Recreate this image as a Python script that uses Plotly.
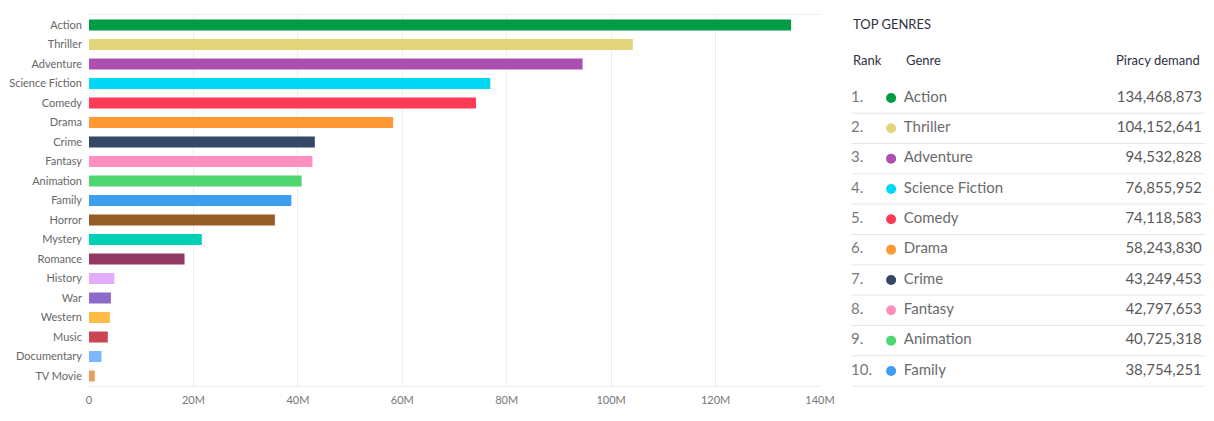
import plotly.graph_objects as go

genres = ["Action", "Thriller", "Adventure", "Science Fiction", "Comedy", "Drama", "Crime",
          "Fantasy", "Animation", "Family", "Horror", "Mystery", "Romance", "History", "War",
          "Western", "Music", "Documentary", "TV Movie"]
demand = [134468873, 104152641, 94532828, 76855952, 74118583, 58243830, 43249453,
          42797653, 40725318, 38754251, 35600000, 21600000, 18300000, 4850000, 4200000,
          4000000, 3600000, 2400000, 1100000]
colors = ["#009c44", "#e2d57c", "#ad4fb1", "#00d8f5", "#ff3a55", "#ff9933", "#354766",
          "#ff8fbf", "#4fd672", "#3d9ef0", "#935d25", "#00d1b4", "#913962", "#e2adfd",
          "#8c6bc8", "#ffbb47", "#cc4452", "#7db7ff", "#eb9c5f"]
x_ticks = [0, 20e6, 40e6, 60e6, 80e6, 100e6, 120e6, 140e6]
x_tick_labels = ["0", "20M", "40M", "60M", "80M", "100M", "120M", "140M"]

top_n = 10
ranks = list(range(1, top_n + 1))
rank_labels = [f"{r}." for r in ranks]
top_genres = genres[:top_n]
top_values = [f"{v:,}" for v in demand[:top_n]]
top_colors = colors[:top_n]

FONT = "Lato, 'Open Sans', sans-serif"
W, H = 1214, 421

fig = go.Figure()

fig.add_trace(go.Bar(
    x=demand, y=genres, orientation="h",
    marker=dict(color=colors, line=dict(width=0)),
    width=0.57, xaxis="x", yaxis="y", showlegend=False,
    hoverinfo="x+y",
))

# Table (on a second pair of axes, rows positioned by rank)
col_rank, col_dot, col_genre, col_value = 0.0165, 0.127, 0.162, 0.983
fig.add_trace(go.Scatter(
    x=[col_rank] * top_n, y=ranks, mode="text", text=rank_labels,
    textposition="middle right", textfont=dict(family=FONT, size=15, color="#7a7a7a"),
    xaxis="x2", yaxis="y2", showlegend=False, hoverinfo="skip",
))
fig.add_trace(go.Scatter(
    x=[col_dot] * top_n, y=ranks, mode="markers",
    marker=dict(color=top_colors, size=10),
    xaxis="x2", yaxis="y2", showlegend=False, hoverinfo="skip",
))
fig.add_trace(go.Scatter(
    x=[col_genre] * top_n, y=ranks, mode="text", text=top_genres,
    textposition="middle right", textfont=dict(family=FONT, size=15, color="#6b6b6b"),
    xaxis="x2", yaxis="y2", showlegend=False, hoverinfo="skip",
))
fig.add_trace(go.Scatter(
    x=[col_value] * top_n, y=ranks, mode="text", text=top_values,
    textposition="middle left", textfont=dict(family=FONT, size=15, color="#5a5a5a"),
    xaxis="x2", yaxis="y2", showlegend=False, hoverinfo="skip",
))

shapes = []
for r in ranks:
    shapes.append(dict(type="line", xref="x2", yref="y2", x0=col_rank, x1=0.992,
                       y0=r + 0.5, y1=r + 0.5, line=dict(color="#e6e6e6", width=1)))

annotations = [
    dict(text="TOP GENRES", xref="x2", yref="y2", x=col_rank, y=-1.44, xanchor="left",
         yanchor="middle", showarrow=False, font=dict(family=FONT, size=13, color="#2d3142")),
    dict(text="Rank", xref="x2", yref="y2", x=col_rank, y=-0.25, xanchor="left",
         yanchor="middle", showarrow=False, font=dict(family=FONT, size=13, color="#2d3142")),
    dict(text="Genre", xref="x2", yref="y2", x=col_genre, y=-0.25, xanchor="left",
         yanchor="middle", showarrow=False, font=dict(family=FONT, size=13, color="#2d3142")),
    dict(text="Piracy demand", xref="x2", yref="y2", x=col_value, y=-0.25, xanchor="right",
         yanchor="middle", showarrow=False, font=dict(family=FONT, size=13, color="#2d3142")),
]

row_px = 30.33
first_row_px = 98
y2_top = 1 - first_row_px / row_px
y2_bottom = 1 + (H - first_row_px) / row_px

fig.update_layout(
    width=W, height=H,
    margin=dict(l=0, r=0, t=0, b=0, autoexpand=False),
    paper_bgcolor="white", plot_bgcolor="white",
    font=dict(family=FONT, color="#666666"),
    xaxis=dict(
        domain=[89 / W, 820 / W], range=[0, 140e6],
        tickvals=x_ticks, ticktext=x_tick_labels,
        showgrid=True, gridcolor="#eeeeee", gridwidth=1,
        zeroline=False, showline=True, linecolor="#eeeeee", mirror=True,
        tickfont=dict(family=FONT, size=11, color="#777777"),
        ticks="", ticklabelstandoff=4, fixedrange=True, automargin=False,
    ),
    yaxis=dict(
        domain=[1 - 385.75 / H, 1 - 15.25 / H],
        autorange="reversed", type="category",
        showgrid=False, zeroline=False, showline=False,
        tickfont=dict(family=FONT, size=11, color="#666666"),
        ticks="", ticklabelstandoff=6, fixedrange=True, automargin=False,
    ),
    xaxis2=dict(domain=[845 / W, 1208 / W], range=[0, 1], visible=False, fixedrange=True,
                anchor="y2", automargin=False),
    yaxis2=dict(domain=[0, 1], range=[y2_bottom, y2_top], visible=False, fixedrange=True,
                anchor="x2", automargin=False),
    shapes=shapes,
    annotations=annotations,
)

fig.write_html(
    "out.html",
    config={"displayModeBar": False},
    post_script="document.body.style.margin='0';document.body.style.overflow='hidden';",
)
